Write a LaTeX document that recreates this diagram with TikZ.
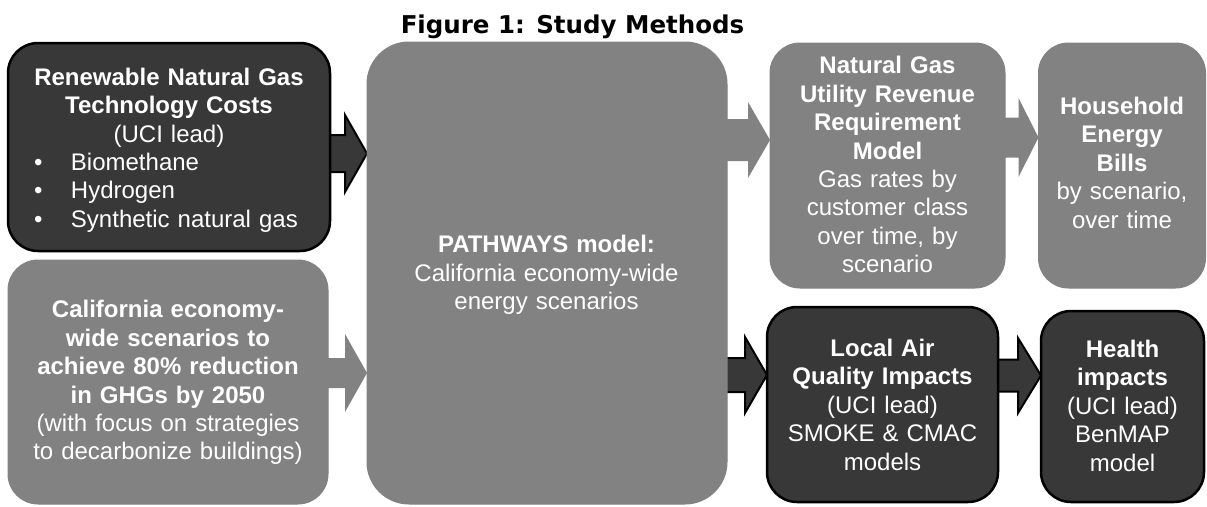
\documentclass[tikz,border=0pt]{standalone}
\usepackage{fontspec}
\setmainfont{Liberation Sans}
\newfontfamily\titlefont{DejaVu Sans}
\usetikzlibrary{calc,backgrounds}
\definecolor{darkfill}{HTML}{383838}
\definecolor{grayfill}{HTML}{828282}
\tikzset{
  box/.style={rounded corners=30pt, inner sep=0pt, outer sep=0pt},
  darkbox/.style={box, fill=darkfill, draw=black, line width=2.5pt},
  graybox/.style={box, fill=grayfill, draw=grayfill, line width=1pt},
  txt/.style={text=white, align=center, inner sep=0pt, font=\fontsize{24}{28.4}\selectfont},
  darkarrow/.style={fill=darkfill, draw=black, line width=2pt, line join=miter},
  grayarrow/.style={fill=grayfill},
  titletext/.style={anchor=base, inner sep=0pt, font=\titlefont\bfseries\fontsize{24.5}{29}\selectfont},
}
\newcommand\blockarr[7]{% style, from, to, y, shaft half, head half, head length
  \path[#1] let \p1=(#2.east), \p2=(#3.west), \n1={\x1}, \n2={\x2} in
  (\n1-3,#4-#5) -- (\n2-#7,#4-#5) -- (\n2-#7,#4-#6) -- (\n2,#4) -- (\n2-#7,#4+#6) -- (\n2-#7,#4+#5) -- (\n1-3,#4+#5) -- cycle;}
\begin{document}
\begin{tikzpicture}[x=1pt,y=-1pt]
\useasboundingbox (0,0) rectangle (1207,506);
\node[titletext] (title) at (572.5,33) {Figure 1: Study Methods};
% boxes
\node[darkbox, minimum width=322pt, minimum height=208pt] (rng) at (169,147) {};
\node[graybox, minimum width=320pt, minimum height=244pt] (cal) at (168,382) {};
\node[graybox, rounded corners=42pt, minimum width=360pt, minimum height=462pt] (path) at (547,273) {};
\node[graybox, minimum width=235pt, minimum height=245pt] (ngu) at (887.5,165.5) {};
\node[graybox, minimum width=167pt, minimum height=245pt] (hh) at (1122,165.5) {};
\node[darkbox, minimum width=231pt, minimum height=195pt] (air) at (882.5,404.5) {};
\node[darkbox, minimum width=163pt, minimum height=191pt] (health) at (1122.5,406.5) {};
% arrows
\begin{scope}[on background layer]
\blockarr{darkarrow}{rng}{path}{153.5}{18.5}{38.5}{22}
\blockarr{grayarrow}{path}{ngu}{140}{21}{38}{22}
\blockarr{grayarrow}{ngu}{hh}{137.5}{20}{39.5}{20}
\blockarr{grayarrow}{cal}{path}{373}{15}{39}{22}
\blockarr{darkarrow}{path}{air}{375}{17}{38}{22}
\blockarr{darkarrow}{air}{health}{375.5}{16}{37.5}{23}
\end{scope}
% texts
\node[txt, align=left, text width=300pt] (rngtxt) at (169,150) {%
\makebox[300pt]{\textbf{Renewable Natural Gas}}\\
\makebox[300pt]{\textbf{Technology Costs}}\\
\makebox[300pt]{(UCI lead)}\\
\hspace*{15pt}\makebox[37pt][l]{\textbullet}Biomethane\\
\hspace*{15pt}\makebox[37pt][l]{\textbullet}Hydrogen\\
\hspace*{15pt}\makebox[37pt][l]{\textbullet}Synthetic natural gas};
\node[txt, text width=312pt] (caltxt) at (168,382.75) {%
\textbf{California economy-}\\
\textbf{wide scenarios to}\\
\textbf{achieve 80\% reduction}\\
\textbf{in GHGs by 2050}\\
(with focus on strategies\\
to decarbonize buildings)};
\node[txt, text width=340pt] (pathtxt) at (546.5,275) {%
\textbf{PATHWAYS model:}\\
California economy-wide\\
energy scenarios};
\node[txt, text width=228pt] (ngutxt) at (887.5,164.75) {%
\textbf{Natural Gas}\\
\textbf{Utility Revenue}\\
\textbf{Requirement}\\
\textbf{Model}\\
Gas rates by\\
customer class\\
over time, by\\
scenario};
\node[txt, text width=172pt] (hhtxt) at (1122,162.75) {%
\textbf{Household}\\
\textbf{Energy}\\
\textbf{Bills}\\
by scenario,\\
over time};
\node[txt, text width=226pt] (airtxt) at (882.5,404.75) {%
\textbf{Local Air}\\
\textbf{Quality Impacts}\\
(UCI lead)\\
SMOKE \& CMAC\\
models};
\node[txt, text width=160pt] (healthtxt) at (1122.5,405.75) {%
\textbf{Health}\\
\textbf{impacts}\\
(UCI lead)\\
BenMAP\\
model};
\end{tikzpicture}
\end{document}
